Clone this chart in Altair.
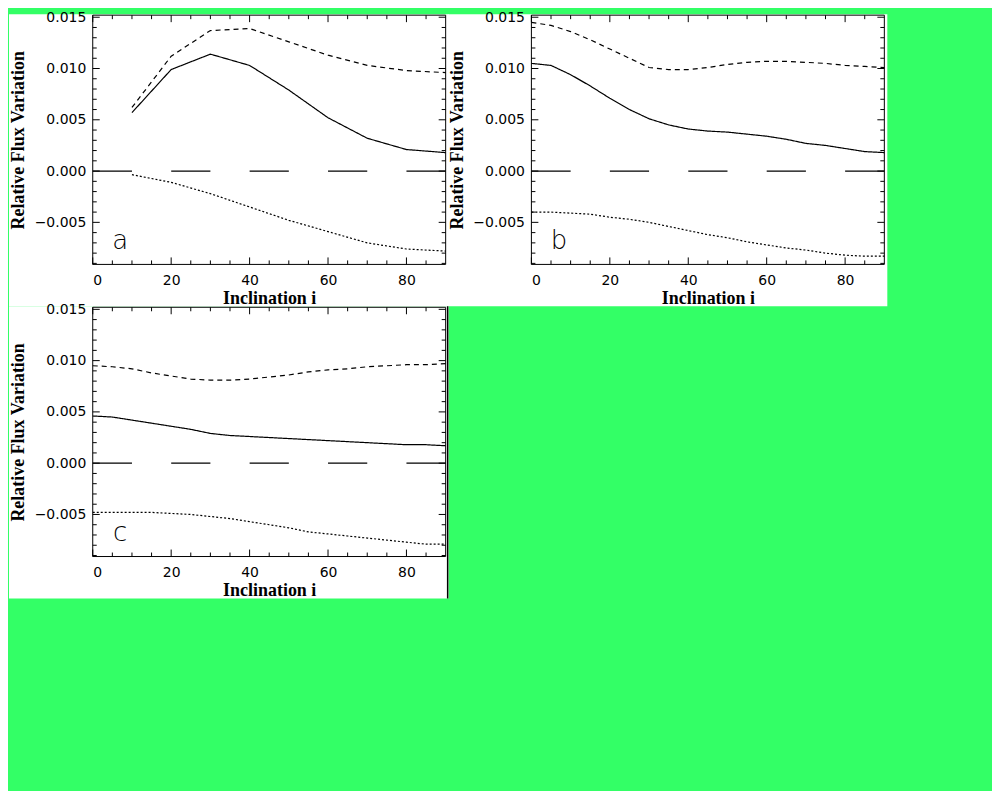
import altair as alt
import pandas as pd

GREEN = "#33ff66"
YMIN, YMAX = -0.0091, 0.0152

# ---- data ----
xa = [10, 20, 30, 40, 50, 60, 70, 80, 90]
a_solid = [0.0057, 0.0099, 0.0114, 0.0103, 0.0079, 0.0052, 0.0032, 0.0021, 0.0018]
a_dash = [0.0062, 0.0112, 0.0137, 0.0139, 0.0126, 0.0113, 0.0103, 0.0098, 0.0096]
a_dot = [-0.00035, -0.0011, -0.0022, -0.0035, -0.0048, -0.0059, -0.0070, -0.0076, -0.0078]

xb = [0, 5, 10, 15, 20, 25, 30, 35, 40, 45, 50, 55, 60, 65, 70, 75, 80, 85, 90]
b_solid = [0.0105, 0.0103, 0.0094, 0.0083, 0.0071, 0.0060, 0.0051, 0.0045, 0.0041, 0.0039,
           0.0038, 0.0036, 0.0034, 0.0031, 0.0027, 0.0025, 0.0022, 0.0019, 0.0018]
b_dash = [0.0145, 0.0142, 0.0136, 0.0128, 0.0119, 0.0110, 0.0101, 0.0099, 0.0099, 0.0101,
          0.0104, 0.0106, 0.0107, 0.0107, 0.0106, 0.0105, 0.0103, 0.0102, 0.0101]
b_dot = [-0.0040, -0.0040, -0.0041, -0.0042, -0.0045, -0.0047, -0.0050, -0.0054, -0.0058, -0.0062,
         -0.0065, -0.0069, -0.0072, -0.0075, -0.0077, -0.0080, -0.0082, -0.0083, -0.0083]

xc = xb
c_solid = [0.0046, 0.0045, 0.0042, 0.0039, 0.0036, 0.0033, 0.0029, 0.0027, 0.0026, 0.0025,
           0.0024, 0.0023, 0.0022, 0.0021, 0.0020, 0.0019, 0.0018, 0.0018, 0.0017]
c_dash = [0.0095, 0.0094, 0.0092, 0.0088, 0.0085, 0.0082, 0.0081, 0.0081, 0.0082, 0.0084,
          0.0086, 0.0089, 0.0091, 0.0092, 0.0094, 0.0095, 0.0096, 0.0096, 0.0097]
c_dot = [-0.0048, -0.0048, -0.0048, -0.0048, -0.0049, -0.0050, -0.0052, -0.0054, -0.0057, -0.0060,
         -0.0063, -0.0067, -0.0069, -0.0071, -0.0073, -0.0075, -0.0077, -0.0079, -0.0079]

x_major = [0, 20, 40, 60, 80]
x_minor = [5, 10, 15, 25, 30, 35, 45, 50, 55, 65, 70, 75, 85]
y_major = [-0.005, 0.0, 0.005, 0.010, 0.015]
y_minor = [-0.009, -0.008, -0.007, -0.006, -0.004, -0.003, -0.002, -0.001,
           0.001, 0.002, 0.003, 0.004, 0.006, 0.007, 0.008, 0.009,
           0.011, 0.012, 0.013, 0.014]
letter_x, letter_y = 7, -0.0076

W, H = 354, 250
MAJ, MIN = 7, 4

xsc = alt.Scale(domain=[0, 90], nice=False, zero=False)
ysc = alt.Scale(domain=[YMIN, YMAX], nice=False, zero=False)


def panel(letter, xs, solid, dash, dot, edge_line=False):
    n = len(xs)
    df = pd.DataFrame({
        "x": xs * 3,
        "y": solid + dash + dot,
        "s": ["solid"] * n + ["dash"] * n + ["dot"] * n,
    })
    one = pd.DataFrame({"z": [0.0]})
    bg = alt.Chart(one).mark_rect(color="white").encode(
        x=alt.value(-84), x2=alt.value(357), y=alt.value(-1), y2=alt.value(292))
    zero = alt.Chart(one).mark_rule(color="black", strokeWidth=1.3,
                                    strokeDash=[39.33, 39.33]).encode(
        y=alt.Y("z:Q", scale=ysc, axis=None))
    lines = alt.Chart(df).mark_line(color="black", strokeWidth=1.2).encode(
        x=alt.X("x:Q", scale=xsc, axis=alt.Axis(
            values=x_major, ticks=False, tickSize=0, domain=False, grid=False, zindex=1,
            labelPadding=9, title="Inclination i", format="d",
            titleX=177, titleY=39, titleBaseline="alphabetic")),
        y=alt.Y("y:Q", scale=ysc, axis=alt.Axis(
            values=y_major, ticks=False, tickSize=0, domain=False, grid=False, zindex=1,
            labelPadding=7, format=".3f", title="Relative Flux Variation",
            titleX=-74, titleY=125, titleBaseline="middle")),
        strokeDash=alt.StrokeDash("s:N", scale=alt.Scale(
            domain=["solid", "dash", "dot"], range=[[1, 0], [5, 4], [2, 2]]), legend=None),
    )
    xt_maj = pd.DataFrame({"v": x_major})
    xt_min = pd.DataFrame({"v": x_minor})
    yt_maj = pd.DataFrame({"v": y_major})
    yt_min = pd.DataFrame({"v": y_minor})
    ticks = []
    for d, L in ((xt_maj, MAJ), (xt_min, MIN)):
        base = alt.Chart(d).mark_rule(color="black", strokeWidth=1)
        ticks.append(base.encode(x=alt.X("v:Q", scale=xsc, axis=None),
                                 y=alt.value(H), y2=alt.value(H - L)))
        ticks.append(base.encode(x=alt.X("v:Q", scale=xsc, axis=None),
                                 y=alt.value(0), y2=alt.value(L)))
    for d, L in ((yt_maj, MAJ), (yt_min, MIN)):
        base = alt.Chart(d).mark_rule(color="black", strokeWidth=1)
        ticks.append(base.encode(y=alt.Y("v:Q", scale=ysc, axis=None),
                                 x=alt.value(0), x2=alt.value(L)))
        ticks.append(base.encode(y=alt.Y("v:Q", scale=ysc, axis=None),
                                 x=alt.value(W), x2=alt.value(W - L)))
    frame = alt.Chart(one).mark_rect(fillOpacity=0, stroke="black", strokeWidth=1).encode(
        x=alt.value(0), x2=alt.value(W), y=alt.value(0), y2=alt.value(H))
    lab = alt.Chart(pd.DataFrame({"x": [letter_x], "y": [letter_y], "t": [letter]})).mark_text(
        font="DejaVu Sans", fontWeight=200, fontSize=26, align="center", baseline="alphabetic",
        color="black").encode(
        x=alt.X("x:Q", scale=xsc, axis=None), y=alt.Y("y:Q", scale=ysc, axis=None), text="t:N")
    layers = [bg, zero] + ticks + [frame, lab]
    if edge_line:
        layers.append(alt.Chart(one).mark_rule(color="black", strokeWidth=1.5).encode(
            x=alt.value(356), y=alt.value(-1), y2=alt.value(292)))
    layers.append(lines)
    return alt.layer(*layers).resolve_axis(x="independent", y="independent").properties(
        width=W, height=H)


pa = panel("a", xa, a_solid, a_dash, a_dot)
pb = panel("b", xb, b_solid, b_dash, b_dot)
pc = panel("c", xc, c_solid, c_dash, c_dot, edge_line=True)

chart = alt.concat(pa, pb, pc, columns=2,
                   spacing=alt.RowColnumber(row=43, column=86),
                   bounds="flush").properties(
    background=GREEN,
    padding={"left": 0, "top": 0, "right": 104, "bottom": 190},
).configure_view(stroke="transparent").configure_axis(
    labelFont="DejaVu Sans", labelFontSize=14, labelColor="black",
    titleFont="Liberation Serif", titleFontWeight="bold", titleFontSize=18, titleColor="black",
)

chart.save("out.html", embed_options={"renderer": "svg", "actions": False})
